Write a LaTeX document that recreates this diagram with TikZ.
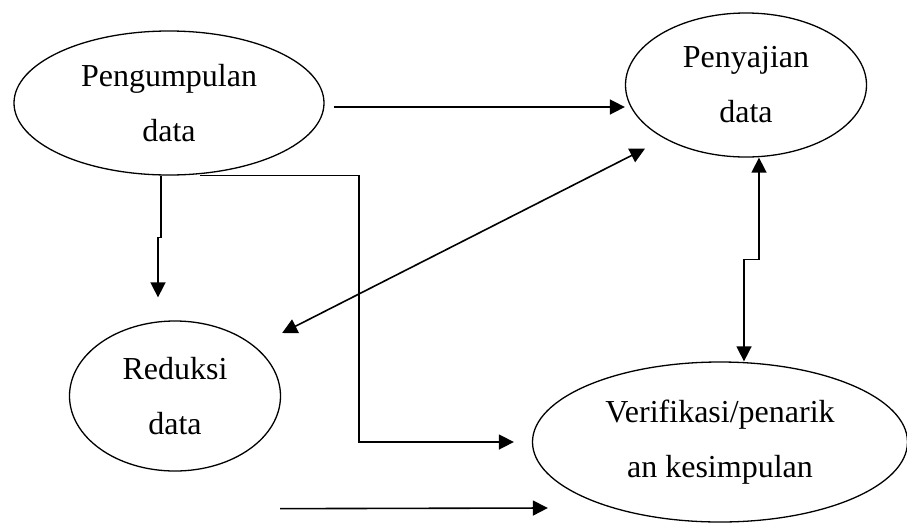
\documentclass[tikz,border=0pt]{standalone}
\usepackage{fontspec}
\setmainfont{Liberation Serif}
\usepackage{tikz}
\usetikzlibrary{arrows.meta,positioning,calc,shapes.geometric}

\begin{document}
\begin{tikzpicture}[x=1pt,y=-1pt,
  blob/.style={draw,ellipse,line width=1.3pt,inner sep=0pt,align=center,
    font=\fontsize{32}{55}\selectfont},
  arr/.style={line width=1.6pt,-{Triangle[length=15pt,width=15pt]}},
  dbl/.style={line width=1.6pt,{Triangle[length=15pt,width=15pt]}-{Triangle[length=15pt,width=15pt]}}]
  \useasboundingbox (0,0) rectangle (907,523);
  \node[blob,minimum width=310pt,minimum height=144pt] (kumpul) at (169,103) {Pengumpulan\\data};
  \node[blob,minimum width=241pt,minimum height=144pt] (saji) at (746,85) {Penyajian\\data};
  \node[blob,minimum width=211pt,minimum height=150pt] (reduksi) at (175,396) {Reduksi\\data};
  \node[blob,minimum width=375pt,minimum height=160pt] (simpul) at (720,442) {Verifikasi/penarik\\an kesimpulan};
  \coordinate (bend) at (359,442);
  \draw[arr] ($(kumpul.east)+(9,4)$) -- ($(saji.west)+(0,22)$);
  \draw[arr] ($(kumpul.south)+(-8,0)$) -- ++(0,62) -- ++(-3,0) -- ($(reduksi.north)+(-17,-23)$);
  \draw[arr] ($(kumpul.south)+(31,0)$) -| (bend) -- ($(simpul.west)+(-18,0)$);
  \draw[dbl] ($(reduksi.east)+(1,-63)$) -- ($(saji.south)+(-101,-9)$);
  \draw[dbl] ($(saji.south)+(13,0)$) -- ++(0,102) -- ++(-15,0) -- ($(simpul.north)+(24,0)$);
  \draw[arr] ($(reduksi.south)+(105,37)$) -- ($(simpul.west)+(16,66)$);
\end{tikzpicture}
\end{document}
